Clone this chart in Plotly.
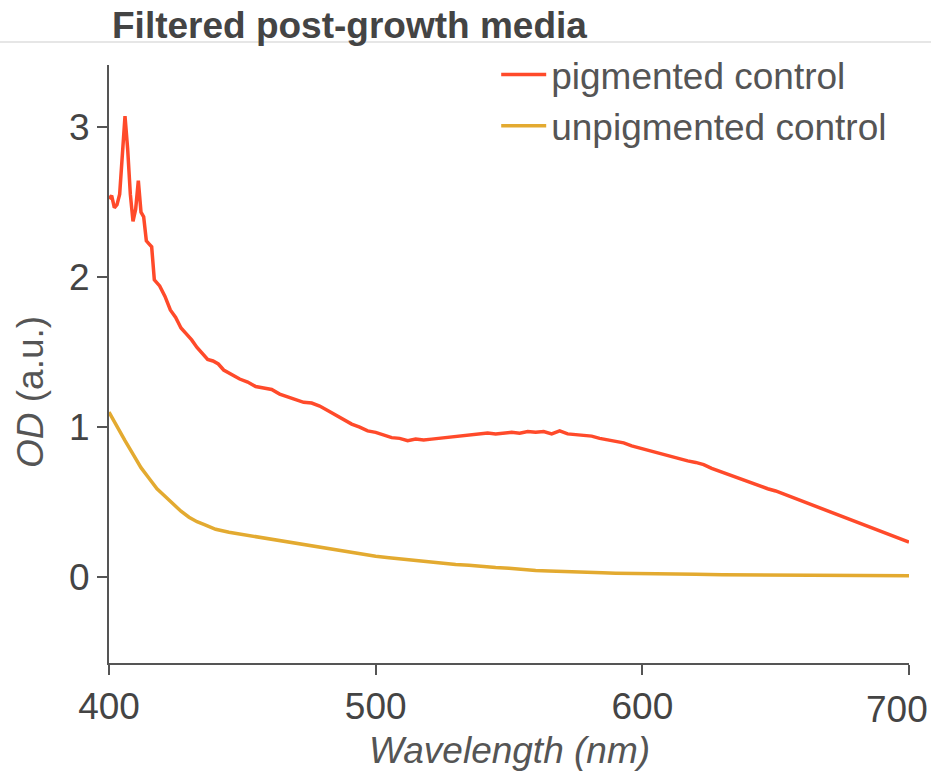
import plotly.graph_objects as go

# Pigmented control
pig_x = [400, 401, 402, 403, 404, 405, 406, 407, 408, 409, 410, 411, 412, 413, 414, 415, 416, 417,
         419, 421, 423, 425, 427, 429, 431, 433, 435, 437, 439, 441, 443, 446, 449, 452, 455, 458,
         461, 464, 467, 470, 473, 476, 479, 482, 485, 488, 491, 494, 497, 500, 503, 506, 509, 512,
         515, 518, 521, 524, 527, 530, 533, 536, 539, 542, 545, 548, 551, 554, 557, 560, 563, 566,
         569, 572, 575, 578, 581, 584, 587, 590, 593, 596, 599, 602, 605, 608, 611, 614, 617, 620,
         623, 626, 629, 632, 635, 638, 641, 644, 647, 650, 653, 656, 659, 662, 665, 668, 671, 674,
         677, 680, 683, 686, 689, 692, 695, 698, 700]
pig_y = [2.52, 2.54, 2.46, 2.48, 2.55, 2.78, 3.07, 2.85, 2.55, 2.37, 2.45, 2.64, 2.43, 2.40, 2.24, 2.22, 2.20, 1.98,
         1.94, 1.87, 1.78, 1.73, 1.66, 1.62, 1.58, 1.53, 1.49, 1.45, 1.44, 1.42, 1.38, 1.35, 1.32, 1.30, 1.27, 1.26,
         1.25, 1.22, 1.20, 1.18, 1.165, 1.16, 1.14, 1.11, 1.08, 1.05, 1.02, 1.00, 0.975, 0.965, 0.945, 0.93, 0.925, 0.91,
         0.92, 0.915, 0.92, 0.925, 0.93, 0.935, 0.94, 0.95, 0.955, 0.96, 0.955, 0.96, 0.965, 0.96, 0.97, 0.965, 0.97, 0.955,
         0.975, 0.955, 0.95, 0.945, 0.94, 0.925, 0.915, 0.90, 0.895, 0.875, 0.86, 0.845, 0.83, 0.815, 0.805, 0.79, 0.775, 0.765,
         0.75, 0.725, 0.705, 0.69, 0.67, 0.65, 0.63, 0.61, 0.59, 0.575, 0.555, 0.535, 0.51, 0.49, 0.47, 0.45, 0.43, 0.41,
         0.39, 0.37, 0.35, 0.33, 0.31, 0.29, 0.27, 0.25, 0.235]

# Unpigmented control
unp_x = [400, 403, 406, 409, 412, 415, 418, 421, 424, 427, 430, 433, 436, 440, 445, 450, 455, 460,
         465, 470, 475, 480, 485, 490, 495, 500, 505, 510, 515, 520, 525, 530, 535, 540, 545, 550,
         555, 560, 565, 570, 575, 580, 585, 590, 595, 600, 610, 620, 630, 640, 650, 660, 670, 680,
         690, 700]
unp_y = [1.10, 1.00, 0.91, 0.82, 0.73, 0.66, 0.59, 0.54, 0.49, 0.44, 0.40, 0.37, 0.35, 0.32, 0.30, 0.285, 0.27, 0.255,
         0.24, 0.225, 0.21, 0.195, 0.18, 0.165, 0.15, 0.14, 0.13, 0.12, 0.11, 0.10, 0.09, 0.085, 0.08, 0.07, 0.065, 0.06,
         0.05, 0.045, 0.042, 0.038, 0.034, 0.032, 0.03, 0.028, 0.026, 0.025, 0.022, 0.02, 0.018, 0.017, 0.015, 0.013, 0.012, 0.01,
         0.012, 0.01]

x_ticks = [400, 500, 600, 700]
x_ticktext = ["400", "500", "600", ""]   # last label drawn right-aligned so it stays inside the page
last_x_label = "700"
y_ticks = [0, 1, 2, 3]

FONT = "Liberation Sans"
AX = "#555555"
FS = 37

fig = go.Figure()
fig.add_trace(go.Scatter(x=pig_x, y=pig_y, mode="lines", name="pigmented control",
                         line=dict(color="#FF4A2A", width=3.5)))
fig.add_trace(go.Scatter(x=unp_x, y=unp_y, mode="lines", name="unpigmented control",
                         line=dict(color="#E3AA30", width=3.5)))

fig.update_layout(
    width=931, height=774,
    margin=dict(l=109, r=22, t=65, b=111, autoexpand=False),
    paper_bgcolor="white", plot_bgcolor="white",
    font=dict(family=FONT, size=FS, color="#444444"),
    showlegend=True,
    legend=dict(x=0.484, y=1.035, xanchor="left", yanchor="top",
                bgcolor="rgba(0,0,0,0)", font=dict(size=FS, color="#555555"),
                tracegroupgap=0, itemwidth=45),
    xaxis=dict(range=[400, 700], tickvals=x_ticks, ticktext=x_ticktext, ticks="outside",
               ticklen=10, tickwidth=2,
               tickcolor=AX, showline=True, linecolor=AX, linewidth=2, showgrid=False,
               zeroline=False, tickfont=dict(size=FS, color="#444444"),
               automargin=False),
    yaxis=dict(range=[-0.57, 3.41], tickvals=y_ticks, ticks="outside", ticklen=10, tickwidth=2,
               tickcolor=AX, showline=True, linecolor=AX, linewidth=2, showgrid=False,
               zeroline=False, tickfont=dict(size=FS, color="#444444"), automargin=False),
    annotations=[
        dict(text="<b>Filtered post-growth media</b>", xref="paper", yref="paper",
             x=(110 - 109) / 800, y=1 + (65 - 25) / 598, xanchor="left", yanchor="middle",
             showarrow=False, font=dict(size=FS, color="#444444")),
        dict(text=last_x_label, xref="x", yref="paper",
             x=x_ticks[-1], y=-(709 - 663) / 598, xanchor="right", yanchor="middle", xshift=21,
             showarrow=False, font=dict(size=FS, color="#444444")),
        dict(text="<i>Wavelength (nm)</i>", xref="paper", yref="paper",
             x=0.5, y=-(750 - 663) / 598, xanchor="center", yanchor="middle",
             showarrow=False, font=dict(size=FS, color="#555555")),
        dict(text="<i>OD</i> (a.u.)", xref="paper", yref="paper",
             x=-(109 - 30) / 800, y=(663 - 392) / 598, xanchor="center", yanchor="middle",
             textangle=-90, showarrow=False, font=dict(size=FS, color="#555555")),
    ],
    shapes=[
        dict(type="line", xref="paper", yref="paper",
             x0=-109 / 800, x1=1 + 22 / 800, y0=1 + (65 - 42) / 598, y1=1 + (65 - 42) / 598,
             line=dict(color="#e6e6e6", width=2)),
    ],
)

fig.write_html("out.html")
